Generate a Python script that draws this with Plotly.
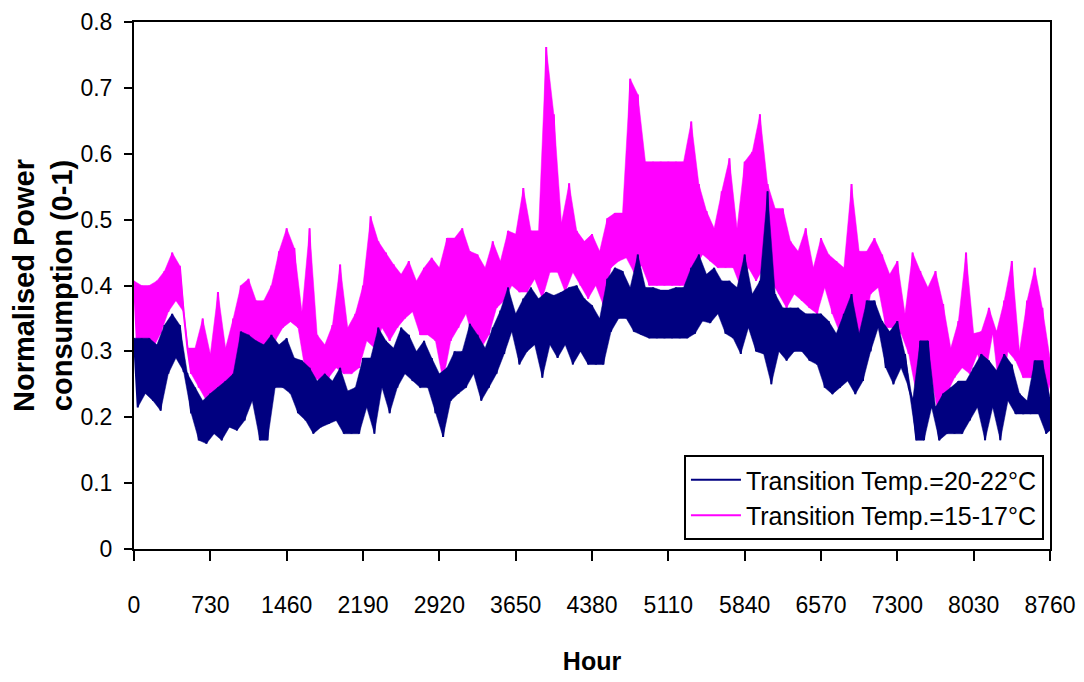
import plotly.graph_objects as go

# Sample hours (every 73 h, i.e. 0 .. 8760)
sample_hours = list(range(0, 8761, 73))

# Transition Temp. = 15-17 °C  (magenta): upper / lower envelope
m_hi = [0.407, 0.40, 0.40, 0.407, 0.422, 0.45, 0.43, 0.305, 0.305, 0.35,
        0.296, 0.39, 0.305, 0.35, 0.40, 0.41, 0.377, 0.377, 0.40, 0.452,
        0.487, 0.457, 0.36, 0.487, 0.325, 0.31, 0.34, 0.432, 0.336, 0.357,
        0.40, 0.505, 0.467, 0.45, 0.432, 0.417, 0.437, 0.407, 0.427, 0.442,
        0.427, 0.472, 0.472, 0.487, 0.452, 0.447, 0.427, 0.467, 0.437, 0.483,
        0.478, 0.548, 0.483, 0.483, 0.762, 0.66, 0.495, 0.555, 0.483, 0.467,
        0.478, 0.452, 0.502, 0.51, 0.51, 0.714, 0.69, 0.588, 0.588, 0.588,
        0.588, 0.588, 0.588, 0.649, 0.554, 0.513, 0.487, 0.543, 0.593, 0.487,
        0.588, 0.603, 0.66, 0.554, 0.517, 0.517, 0.467, 0.452, 0.487, 0.427,
        0.472, 0.447, 0.437, 0.427, 0.554, 0.452, 0.452, 0.472, 0.447, 0.417,
        0.437, 0.357, 0.45, 0.422, 0.397, 0.422, 0.372, 0.305, 0.346, 0.45,
        0.327, 0.33, 0.366, 0.33, 0.377, 0.437, 0.30, 0.377, 0.427, 0.366,
        0.29]
m_lo = [0.286, 0.316, 0.305, 0.327, 0.36, 0.377, 0.36, 0.266, 0.245, 0.225,
        0.23, 0.245, 0.245, 0.266, 0.286, 0.316, 0.275, 0.245, 0.316, 0.336,
        0.345, 0.336, 0.266, 0.26, 0.255, 0.26, 0.275, 0.266, 0.266, 0.275,
        0.316, 0.305, 0.336, 0.316, 0.336, 0.35, 0.36, 0.325, 0.325, 0.316,
        0.255, 0.316, 0.336, 0.357, 0.316, 0.305, 0.325, 0.366, 0.377, 0.40,
        0.39, 0.39, 0.41, 0.38, 0.42, 0.42, 0.39, 0.42, 0.40, 0.38,
        0.40, 0.37, 0.427, 0.437, 0.442, 0.42, 0.43, 0.40, 0.40, 0.40,
        0.40, 0.40, 0.40, 0.427, 0.447, 0.437, 0.427, 0.427, 0.427, 0.397,
        0.427, 0.407, 0.427, 0.407, 0.387, 0.366, 0.387, 0.377, 0.366, 0.357,
        0.397, 0.357, 0.327, 0.357, 0.316, 0.316, 0.387, 0.397, 0.336, 0.336,
        0.327, 0.296, 0.236, 0.266, 0.26, 0.195, 0.236, 0.26, 0.275, 0.266,
        0.296, 0.26, 0.327, 0.225, 0.30, 0.286, 0.26, 0.26, 0.275, 0.225,
        0.25]

# Transition Temp. = 20-22 °C  (navy): upper / lower envelope
n_hi = [0.32, 0.32, 0.32, 0.31, 0.34, 0.357, 0.34, 0.266, 0.245, 0.225,
        0.236, 0.245, 0.255, 0.266, 0.33, 0.325, 0.316, 0.31, 0.325, 0.31,
        0.32, 0.29, 0.286, 0.275, 0.255, 0.266, 0.255, 0.275, 0.24, 0.245,
        0.29, 0.29, 0.336, 0.316, 0.305, 0.336, 0.325, 0.30, 0.316, 0.29,
        0.266, 0.275, 0.30, 0.30, 0.342, 0.325, 0.305, 0.336, 0.362, 0.397,
        0.357, 0.38, 0.397, 0.38, 0.39, 0.385, 0.39, 0.397, 0.40, 0.38,
        0.37, 0.35, 0.41, 0.427, 0.422, 0.397, 0.447, 0.397, 0.397, 0.393,
        0.393, 0.397, 0.397, 0.427, 0.447, 0.417, 0.427, 0.407, 0.407, 0.397,
        0.447, 0.387, 0.407, 0.543, 0.387, 0.366, 0.366, 0.366, 0.357, 0.357,
        0.357, 0.346, 0.327, 0.357, 0.387, 0.327, 0.377, 0.377, 0.346, 0.33,
        0.346, 0.296, 0.225, 0.316, 0.316, 0.215, 0.236, 0.245, 0.255, 0.255,
        0.275, 0.296, 0.286, 0.271, 0.296, 0.28, 0.236, 0.225, 0.286, 0.286,
        0.23]
n_lo = [0.215, 0.236, 0.225, 0.21, 0.266, 0.29, 0.27, 0.206, 0.165, 0.16,
        0.175, 0.165, 0.185, 0.18, 0.195, 0.225, 0.165, 0.165, 0.245, 0.245,
        0.236, 0.206, 0.195, 0.175, 0.185, 0.19, 0.195, 0.175, 0.175, 0.175,
        0.215, 0.175, 0.245, 0.206, 0.245, 0.266, 0.255, 0.245, 0.245, 0.206,
        0.17, 0.225, 0.236, 0.245, 0.266, 0.225, 0.245, 0.266, 0.296, 0.33,
        0.28, 0.30, 0.31, 0.26, 0.31, 0.29, 0.31, 0.28, 0.30, 0.28,
        0.28, 0.28, 0.33, 0.35, 0.35, 0.33, 0.325, 0.32, 0.32, 0.32,
        0.32, 0.32, 0.32, 0.327, 0.346, 0.343, 0.357, 0.327, 0.32, 0.296,
        0.336, 0.30, 0.296, 0.25, 0.30, 0.286, 0.30, 0.30, 0.286, 0.28,
        0.245, 0.235, 0.245, 0.255, 0.235, 0.255, 0.30, 0.336, 0.275, 0.25,
        0.275, 0.245, 0.165, 0.165, 0.215, 0.165, 0.175, 0.175, 0.175, 0.195,
        0.215, 0.165, 0.215, 0.165, 0.225, 0.205, 0.205, 0.205, 0.205, 0.175,
        0.18]

x_ticks = [0, 730, 1460, 2190, 2920, 3650, 4380, 5110, 5840, 6570, 7300, 8030, 8760]
y_ticks = [0, 0.1, 0.2, 0.3, 0.4, 0.5, 0.6, 0.7, 0.8]

MAGENTA = "#FF00FF"
NAVY = "#000080"


def zigzag(hours, hi, lo):
    xs, ys = [], []
    for h, a, b in zip(hours, hi, lo):
        xs.append(h)
        ys.append(a)
        xs.append(min(h + 36, 8760))
        ys.append(b)
    return xs, ys


def band(hours, hi, lo):
    lo_x = [min(h + 36, 8760) for h in hours]
    xs = list(hours) + lo_x[::-1]
    ys = list(hi) + list(lo)[::-1]
    return xs, ys


fig = go.Figure()
for name, hi, lo, color in [("Transition Temp.=15-17°C", m_hi, m_lo, MAGENTA),
                            ("Transition Temp.=20-22°C", n_hi, n_lo, NAVY)]:
    bx, by = band(sample_hours, hi, lo)
    fig.add_trace(go.Scatter(x=bx, y=by, mode="lines", fill="toself",
                             fillcolor=color, line=dict(color=color, width=0.5),
                             showlegend=False, hoverinfo="skip"))
    zx, zy = zigzag(sample_hours, hi, lo)
    fig.add_trace(go.Scatter(x=zx, y=zy, mode="lines", name=name,
                             line=dict(color=color, width=2)))

tick_font = dict(family="Liberation Sans, Arial", size=23, color="black")

fig.update_layout(
    width=1084, height=682,
    margin=dict(l=126, r=42, t=14, b=141),
    paper_bgcolor="white", plot_bgcolor="white",
    showlegend=True,
    legend=dict(x=0.9934, y=0.017, xanchor="right", yanchor="bottom",
                traceorder="reversed", bgcolor="white",
                bordercolor="black", borderwidth=2,
                itemwidth=50,
                font=dict(family="Liberation Sans, Arial", size=25, color="black"),
                tracegroupgap=0),
    xaxis=dict(range=[0, 8760], tickmode="array", tickvals=x_ticks,
               ticktext=[str(v) for v in x_ticks], automargin=False,
               showline=True, linecolor="black", linewidth=2, mirror=True,
               ticks="outside", ticklen=10, tickwidth=2, tickcolor="black",
               showgrid=False, zeroline=False, tickfont=tick_font,
               ticklabelstandoff=24,
               title=dict(text="<b>Hour</b>",
                          font=dict(family="Liberation Sans, Arial", size=25, color="black"),
                          standoff=36)),
    yaxis=dict(range=[0, 0.8], tickmode="array", tickvals=y_ticks,
               ticktext=["0" if v == 0 else f"{v:.1f}" for v in y_ticks],
               automargin=False,
               showline=True, linecolor="black", linewidth=2, mirror=True,
               ticks="outside", ticklen=8, tickwidth=2, tickcolor="black",
               showgrid=False, zeroline=False, tickfont=tick_font,
               ticklabelstandoff=7,
               title=dict(text="<b>Normalised Power<br>consumption (0-1)</b>",
                          font=dict(family="Liberation Sans, Arial", size=29, color="black"),
                          standoff=10)),
)

fig.write_html("out.html")
